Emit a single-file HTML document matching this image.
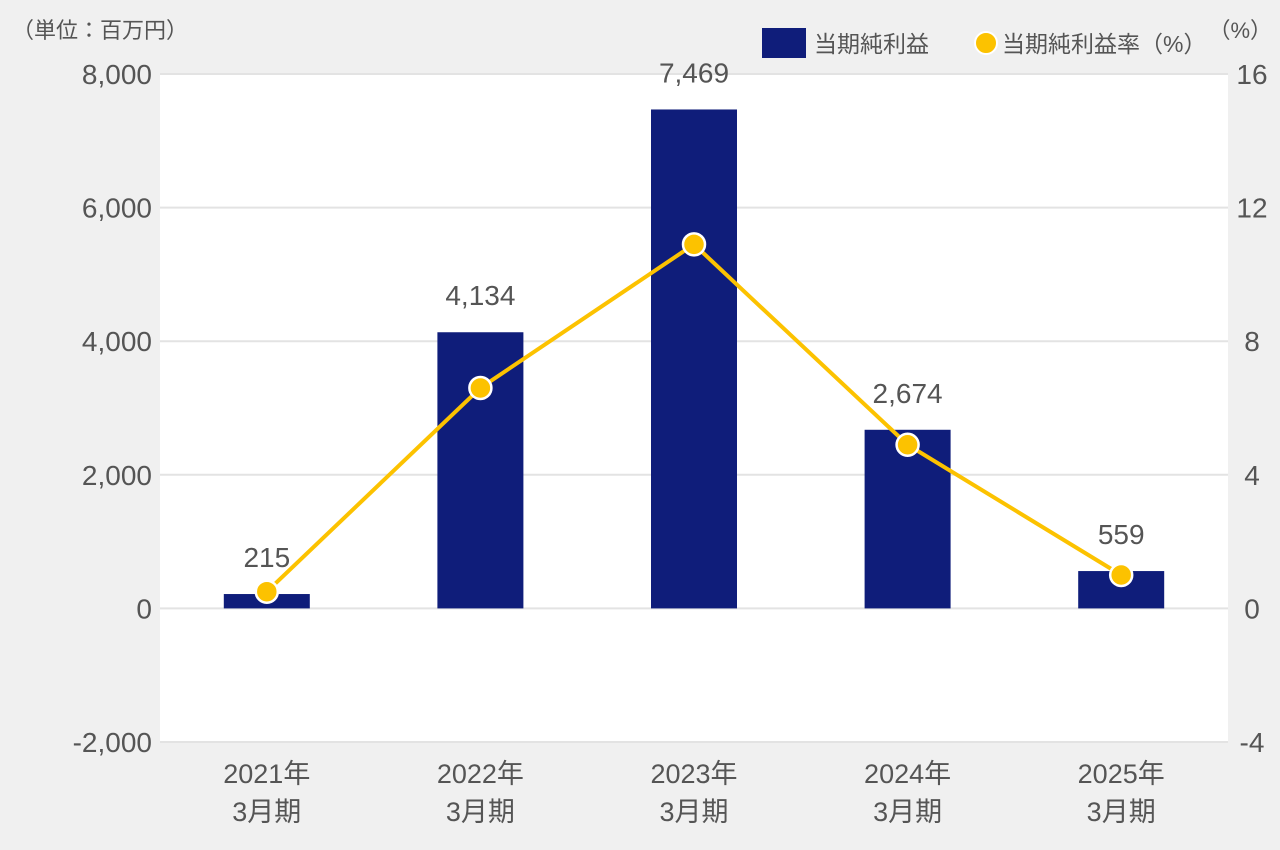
<!DOCTYPE html>
<html><head><meta charset="utf-8"><style>
body{margin:0;background:#f0f0f0;}
svg{display:block;font-family:"Liberation Sans","Noto Sans CJK JP",sans-serif;}
</style></head><body>
<svg id="chart" width="1280" height="850">
<rect x="160" y="74" width="1068" height="668" fill="#ffffff"/>
<g id="grid"></g><g id="bars"></g><g id="line"></g><g id="labels"></g>
<text x="12" y="38" font-size="22" fill="#555">（単位：百万円）</text>
<text x="1272" y="38" font-size="22" fill="#555" text-anchor="end">（%）</text>
<g>
<rect x="762" y="28" width="44" height="30" fill="#0f1d7a"/>
<text x="814" y="52" font-size="23" fill="#555">当期純利益</text>
<circle cx="986" cy="43" r="11" fill="#fcc200" stroke="#fff" stroke-width="2"/>
<text x="1002" y="52" font-size="23" fill="#555">当期純利益率（%）</text>
</g>
</svg>
<script>
const categories=["2021年","2022年","2023年","2024年","2025年"];
const profit=[215,4134,7469,2674,559];
const margin=[0.5,6.6,10.9,4.9,1.0];
const leftTicks=[-2000,0,2000,4000,6000,8000];
const rightTicks=[-4,0,4,8,12,16];
const NS="http://www.w3.org/2000/svg";
const X0=160,W=1068,Y0=742,Y1=74;
const yL=v=>Y0-(v+2000)/10000*(Y0-Y1);
const yR=v=>Y0-(v+4)/20*(Y0-Y1);
const step=W/categories.length;
const xC=i=>X0+step*(i+0.5);
function mk(tag,attrs,parent,txt){const e=document.createElementNS(NS,tag);for(const k in attrs)e.setAttribute(k,attrs[k]);if(txt!==undefined)e.textContent=txt;document.getElementById(parent).appendChild(e);return e;}
const fmt=v=>v.toLocaleString("en-US");
leftTicks.forEach((t,i)=>{
 const y=yL(t);
 const g=mk("line",{x1:X0,x2:X0+W,y1:y,y2:y,stroke:"#e3e3e3","stroke-width":2},"grid");
 
 
 const l=mk("text",{x:152,y:y+10,"font-size":28,fill:"#555","text-anchor":"end"},"grid",fmt(t));
 
 
 const r=mk("text",{x:1252,y:yR(rightTicks[i])+10,"font-size":28,fill:"#555","text-anchor":"middle"},"grid",String(rightTicks[i]));
 
 
});
const bw=86;
profit.forEach((v,i)=>{
 const b=mk("rect",{x:xC(i)-bw/2,y:yL(v),width:bw,height:yL(0)-yL(v),fill:"#0f1d7a"},"bars");
 
 
 const t=mk("text",{x:xC(i),y:yL(v)-27,"font-size":28,fill:"#555","text-anchor":"middle"},"labels",fmt(v));
 
 
 const c1=mk("text",{x:xC(i),y:783,"font-size":27,fill:"#555","text-anchor":"middle"},"labels",categories[i]);
 
 
 const c2=mk("text",{x:xC(i),y:821,"font-size":27,fill:"#555","text-anchor":"middle"},"labels","3月期");
 
 
});
const pl=mk("polyline",{points:margin.map((m,i)=>xC(i)+","+yR(m)).join(" "),fill:"none",stroke:"#fcc200","stroke-width":4},"line");


margin.forEach((m,i)=>{
 const c=mk("circle",{cx:xC(i),cy:yR(m),r:11,fill:"#fcc200",stroke:"#fff","stroke-width":2.5},"line");
 
 
});
</script>
</body></html>
